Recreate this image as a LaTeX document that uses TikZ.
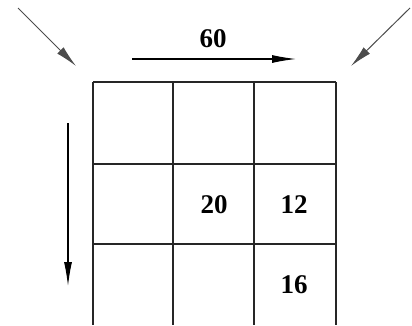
\documentclass[tikz,border=0pt]{standalone}
\usepackage{fontspec}
\setmainfont{Liberation Serif}
\usetikzlibrary{arrows.meta}
\begin{document}
\begin{tikzpicture}[x=1pt,y=1pt,
  gridline/.style={line width=1.4pt,draw=black!85},
  num/.style={font=\fontsize{27}{30}\selectfont\bfseries,inner sep=0pt},
  arr/.style={line width=1.1pt,-{Latex[length=24pt,width=8pt]}},
  diag/.style={line width=1pt,draw=black!70,-{Latex[length=22pt,width=9pt]}}]
\useasboundingbox (0,0) rectangle (412,325);
% grid
\foreach \x in {93,173,254,336} \draw[gridline] (\x,243) -- (\x,0);
\foreach \y in {243,161,81} \draw[gridline] (93,\y) -- (336,\y);
% numbers
\node[num] (n60) at (213,286) {60};
\node[num] (n20) at (214,120) {20};
\node[num] (n12) at (294,120) {12};
\node[num] (n16) at (294,40) {16};
% arrows
\coordinate (hs) at (132,266);
\coordinate (he) at (296,266);
\draw[arr] (hs) -- (he);
\coordinate (vs) at (68,202);
\coordinate (ve) at (68,39);
\draw[arr] (vs) -- (ve);
\coordinate (d1s) at (18,317);
\coordinate (d1e) at (76,259);
\draw[diag] (d1s) -- (d1e);
\coordinate (d2s) at (410,317);
\coordinate (d2e) at (351,259);
\draw[diag] (d2s) -- (d2e);
\end{tikzpicture}
\end{document}
